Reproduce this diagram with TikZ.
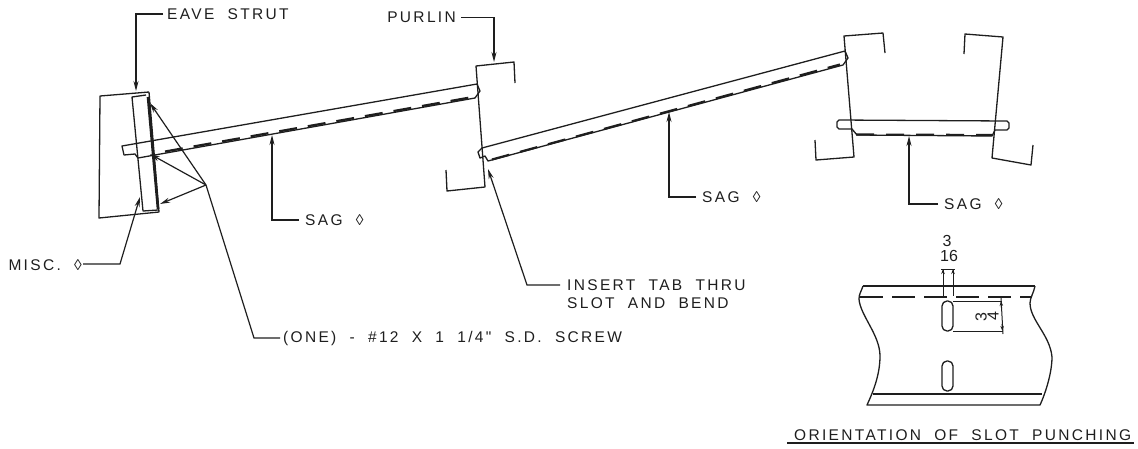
\documentclass[tikz,border=0pt]{standalone}
\usepackage{fontspec}
\usetikzlibrary{arrows.meta}
\setmainfont{Liberation Sans}
\newfontfamily\cadfont[LetterSpace=15,WordSpace=2]{Liberation Sans}
\definecolor{ink}{HTML}{1E1E1E}
\tikzset{
  part/.style={draw=ink,line width=1.3pt,line join=round},
  heavy/.style={draw=ink,line width=2.6pt},
  hidden/.style={draw=ink,line width=2.2pt,dash pattern=on 18pt off 11pt},
  thin part/.style={draw=ink,line width=1pt,line join=round},
  leader/.style={draw=ink,line width=1.2pt,-{Stealth[length=10pt,width=5pt]}},
  smalltip/.style={draw=ink,line width=1pt,-{Stealth[length=5pt,width=3.5pt]}},
  plainleader/.style={draw=ink,line width=1.2pt},
  label/.style={anchor=west,inner sep=0pt,text=ink,font=\cadfont\fontsize{15.5}{16}\selectfont},
  dimtext/.style={inner sep=0pt,text=ink,font=\fontsize{16}{17}\selectfont},
}
\begin{document}
\begin{tikzpicture}[x=1pt,y=-1pt]
\useasboundingbox (0,0) rectangle (1138,448);
% eave strut
\draw[part] (149,92) -- (100,96) -- (99,218) -- (159,212) -- (149,92);
\draw[part] (146,95) -- (132,97) -- (143,211) -- (158,210);
\draw[heavy] (148,97) -- (158,209);
% sag 1
\draw[part] (477,84) -- (122,146) -- (124,155) -- (135,154) -- (138,158) -- (475,98) -- (480,91) -- (477,84);
\draw[hidden] (165,151.5) -- (470,97.5);
% purlin 1
\draw[part] (515,83) -- (514,62) -- (476,66) -- (485,187) -- (447,191) -- (446,170);
% sag 2
\draw[part] (845,51) -- (482,148) -- (478,152) -- (480,158) -- (485,156) -- (488,161) -- (843,65) -- (848,58) -- (845,51);
\draw[hidden] (492,159.5) -- (840,64.5);
% purlin 2
\draw[part] (885,53) -- (883,33) -- (844,36) -- (854,157) -- (816,160) -- (815,140);
% purlin 3
\draw[part] (964,54) -- (965,34) -- (1003,37) -- (992,158) -- (1031,165) -- (1033,145);
% sag 3
\draw[part] (839,120) -- (1007,121) -- (1009,123) -- (1009,128) -- (1007,130) -- (995,130) -- (992,136) -- (857,135) -- (852,129) -- (839,129) -- (837,127) -- (837,122) -- cycle;
\draw[hidden,dash pattern=on 18pt off 12pt] (856,134.5) -- (992,135);

% slot detail
\draw[part] (863,286) -- (1035,286);
\draw[part] (863,286) .. controls (861,292) and (859,294) .. (859,299)
  .. controls (860,315) and (880,335) .. (880,356)
  .. controls (880,375) and (873,392) .. (867,405) -- (1040,405)
  .. controls (1046,392) and (1052,372) .. (1052,357)
  .. controls (1050,335) and (1030,320) .. (1030,303)
  .. controls (1030,298) and (1034,292) .. (1035,286);
\draw[part] (873,394) -- (1042,394);
\draw[thin part,line width=1.4pt,dash pattern=on 23pt off 9pt] (860,297) -- (1032,297);
\draw[part,rounded corners=5pt] (942,301) rectangle (953,331);
\draw[part,rounded corners=5pt] (942,361) rectangle (953,391);
% dimensions
\draw[thin part] (943,269) -- (943,296);
\draw[thin part] (953,269) -- (953,296);
\draw[thin part] (941,269) -- (955,269);
\coordinate (dimL) at (943,269);
\coordinate (dimLb) at (943,276);
\coordinate (dimR) at (953,269);
\coordinate (dimRb) at (953,276);
\draw[smalltip] (dimLb) -- (dimL);
\draw[smalltip] (dimRb) -- (dimR);
\draw[thin part] (953,301) -- (1002,301);
\draw[thin part] (953,331) -- (1003,331);
\draw[thin part] (1001,298) -- (1003,334);
\coordinate (dimT) at (1001,301);
\coordinate (dimTb) at (1001.5,308);
\coordinate (dimB) at (1002.5,331);
\coordinate (dimBb) at (1002,324);
\draw[smalltip] (dimTb) -- (dimT);
\draw[smalltip] (dimBb) -- (dimB);
\node[dimtext] (threeA) at (947,241) {3};
\node[dimtext] (sixteen) at (949,256) {16};
\node[dimtext,rotate=90] (threeB) at (981,317) {3};
\node[dimtext,rotate=90] (fourB) at (993,316) {4};

% labels
\node[label] (eave) at (167,14) {EAVE STRUT};
\node[label,anchor=east] (purlin) at (456,17.5) {PURLIN};
\node[label] (sagA) at (305,220) {SAG \symbol{"25CA}};
\node[label] (sagB) at (702,197) {SAG \symbol{"25CA}};
\node[label] (sagC) at (944,204) {SAG \symbol{"25CA}};
\node[label,anchor=east] (misc) at (82,265) {MISC. \symbol{"25CA}};
\node[label] (insertA) at (567,285) {INSERT TAB THRU};
\node[label] (insertB) at (567,303) {SLOT AND BEND};
\node[label] (screw) at (283,338) {(ONE) - \#12 X 1 1/4" S.D. SCREW};
\node[label] (orient) at (794,435) {ORIENTATION OF SLOT PUNCHING};
\coordinate (ulA) at (787,443);
\coordinate (ulB) at (1134,443);
\draw[part] (ulA) -- (ulB);

% leaders
\coordinate (eaveTip) at (136,91);
\coordinate (eaveCorner) at (136,14);
\draw[leader] (eave.west) ++(-4,0) -- (eaveCorner) -- (eaveTip);
\coordinate (purTip) at (494,62);
\coordinate (purCorner) at (494,17.5);
\draw[leader] (purlin.east) ++(5,0) -- (purCorner) -- (purTip);
\coordinate (sagATip) at (272,135);
\coordinate (sagACorner) at (272,220);
\draw[leader] (sagA.west) ++(-6,0) -- (sagACorner) -- (sagATip);
\coordinate (sagBTip) at (669,112);
\coordinate (sagBCorner) at (669,197);
\draw[leader] (sagB.west) ++(-6,0) -- (sagBCorner) -- (sagBTip);
\coordinate (sagCTip) at (909,136);
\coordinate (sagCCorner) at (909,204);
\draw[leader] (sagC.west) ++(-6,0) -- (sagCCorner) -- (sagCTip);
\coordinate (miscTip) at (140,197);
\coordinate (miscCorner) at (120,264);
\draw[leader] (misc.east) ++(1,-1) -- (miscCorner) -- (miscTip);
\coordinate (insTip) at (488,169);
\coordinate (insCorner) at (527,285);
\draw[leader] (insertA.west) ++(-7,0) -- (insCorner) -- (insTip);
\coordinate (hub) at (206,185);
\coordinate (screwCorner) at (254,338);
\coordinate (tipA) at (150,103);
\coordinate (tipB) at (150,154);
\coordinate (tipC) at (160,204);
\draw[plainleader] (screw.west) ++(-3,0) -- (screwCorner) -- (hub);
\draw[leader] (hub) -- (tipA);
\draw[leader] (hub) -- (tipB);
\draw[leader] (hub) -- (tipC);
\end{tikzpicture}
\end{document}
